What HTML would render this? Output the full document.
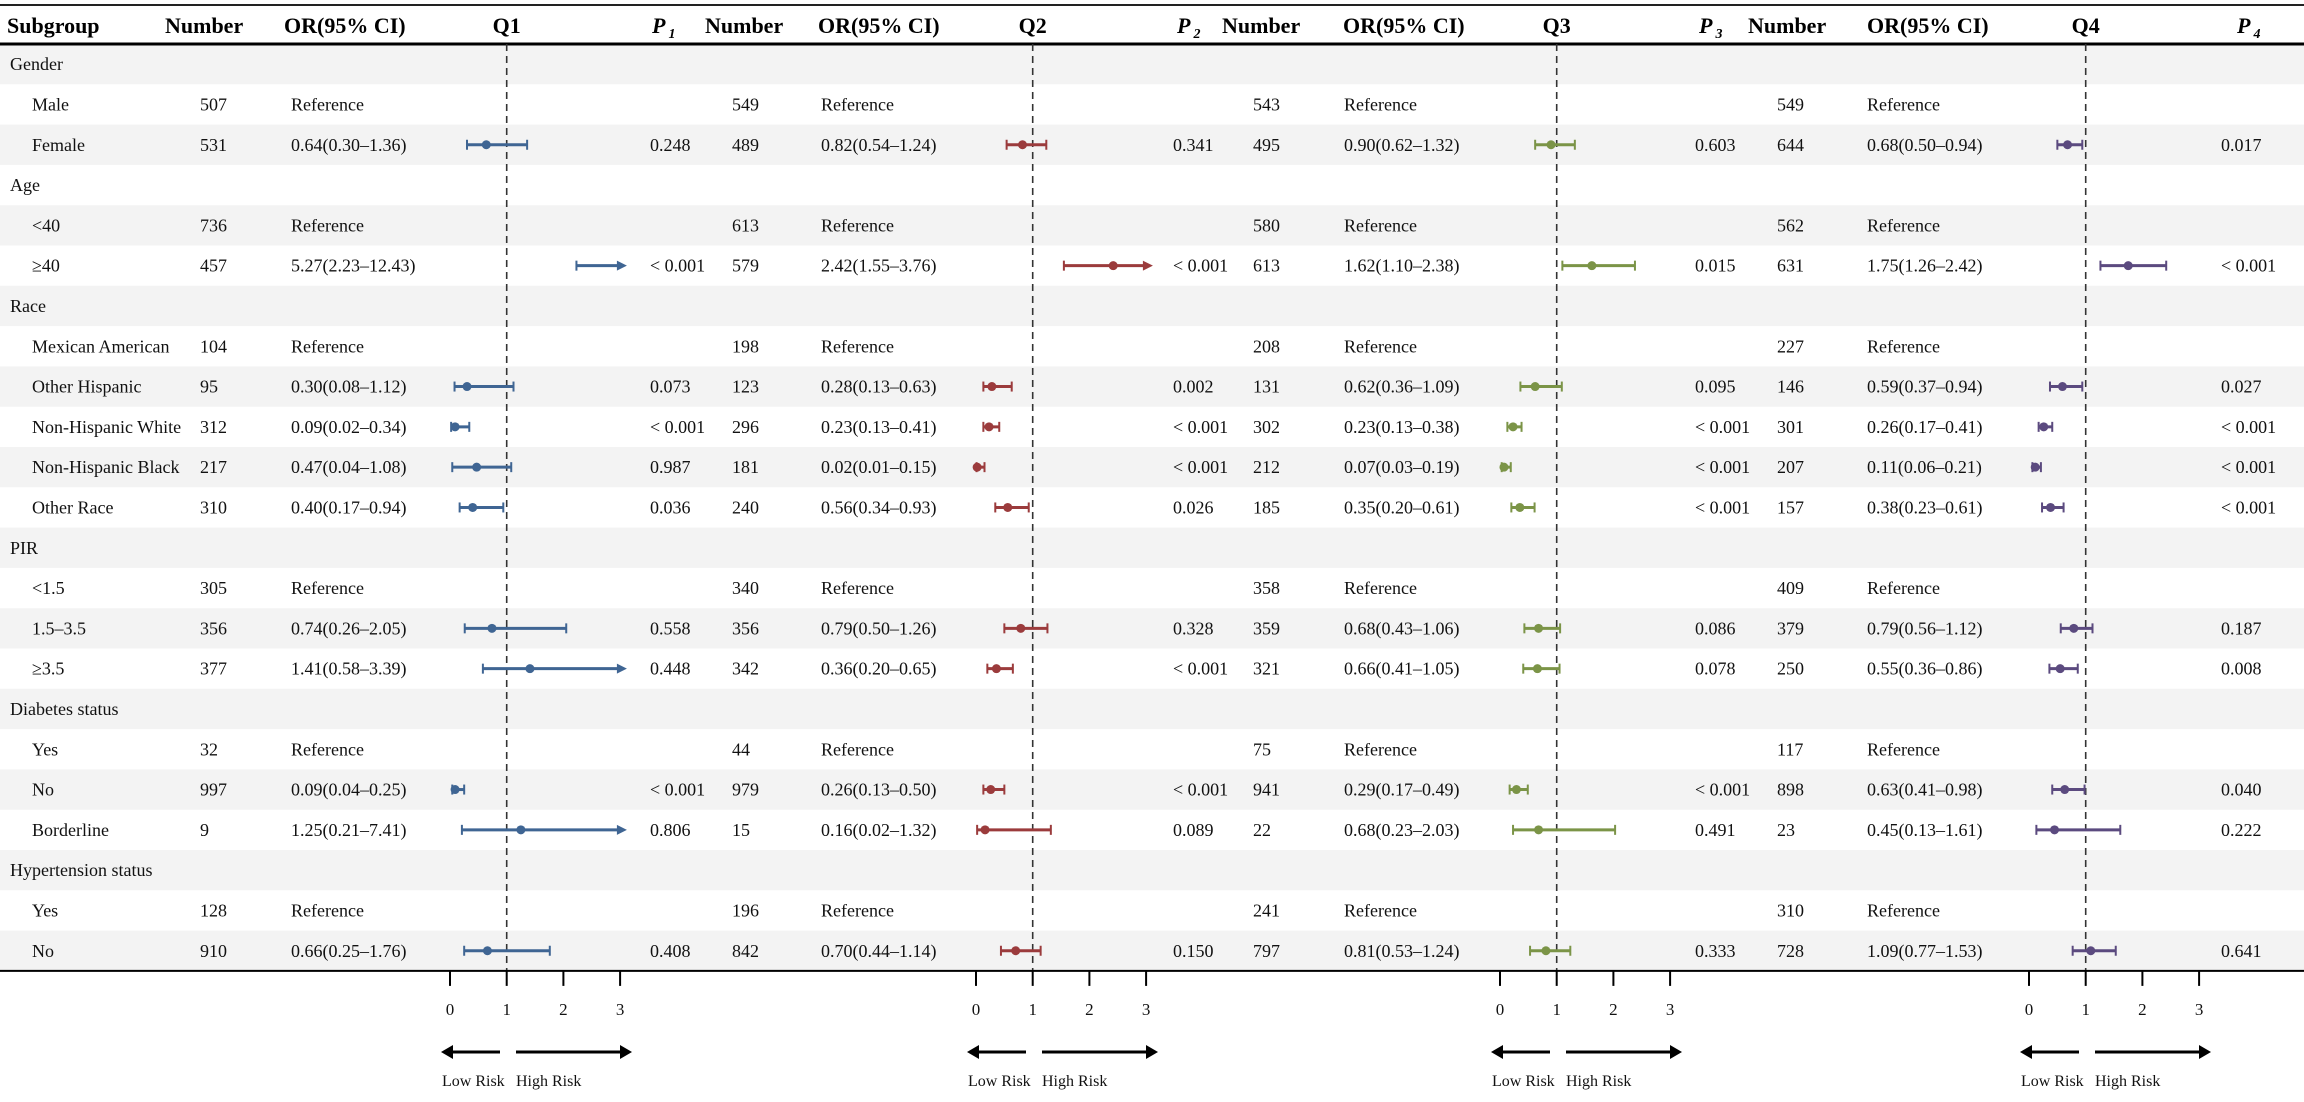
<!DOCTYPE html>
<html><head><meta charset="utf-8"><style>
html,body{margin:0;padding:0;background:#fff;}
svg{display:block;font-family:"Liberation Serif",serif;}
</style></head><body>
<svg id="chart" width="2304" height="1102" viewBox="0 0 2304 1102" xmlns="http://www.w3.org/2000/svg"></svg>
<script>
const labels=["Gender","Male","Female","Age","<40","≥40","Race","Mexican American","Other Hispanic","Non-Hispanic White","Non-Hispanic Black","Other Race","PIR","<1.5","1.5–3.5","≥3.5","Diabetes status","Yes","No","Borderline","Hypertension status","Yes","No"];
const isHeader=[1,0,0,1,0,0,1,0,0,0,0,0,1,0,0,0,1,0,0,0,1,0,0];
const q1N=[null,507,531,null,736,457,null,104,95,312,217,310,null,305,356,377,null,32,997,9,null,128,910];
const q1Est=[null,null,0.64,null,null,5.27,null,null,0.30,0.09,0.47,0.40,null,null,0.74,1.41,null,null,0.09,1.25,null,null,0.66];
const q1Lo=[null,null,0.30,null,null,2.23,null,null,0.08,0.02,0.04,0.17,null,null,0.26,0.58,null,null,0.04,0.21,null,null,0.25];
const q1Hi=[null,null,1.36,null,null,12.43,null,null,1.12,0.34,1.08,0.94,null,null,2.05,3.39,null,null,0.25,7.41,null,null,1.76];
const q1P=[null,null,"0.248",null,null,"< 0.001",null,null,"0.073","< 0.001","0.987","0.036",null,null,"0.558","0.448",null,null,"< 0.001","0.806",null,null,"0.408"];
const q2N=[null,549,489,null,613,579,null,198,123,296,181,240,null,340,356,342,null,44,979,15,null,196,842];
const q2Est=[null,null,0.82,null,null,2.42,null,null,0.28,0.23,0.02,0.56,null,null,0.79,0.36,null,null,0.26,0.16,null,null,0.70];
const q2Lo=[null,null,0.54,null,null,1.55,null,null,0.13,0.13,0.01,0.34,null,null,0.50,0.20,null,null,0.13,0.02,null,null,0.44];
const q2Hi=[null,null,1.24,null,null,3.76,null,null,0.63,0.41,0.15,0.93,null,null,1.26,0.65,null,null,0.50,1.32,null,null,1.14];
const q2P=[null,null,"0.341",null,null,"< 0.001",null,null,"0.002","< 0.001","< 0.001","0.026",null,null,"0.328","< 0.001",null,null,"< 0.001","0.089",null,null,"0.150"];
const q3N=[null,543,495,null,580,613,null,208,131,302,212,185,null,358,359,321,null,75,941,22,null,241,797];
const q3Est=[null,null,0.90,null,null,1.62,null,null,0.62,0.23,0.07,0.35,null,null,0.68,0.66,null,null,0.29,0.68,null,null,0.81];
const q3Lo=[null,null,0.62,null,null,1.10,null,null,0.36,0.13,0.03,0.20,null,null,0.43,0.41,null,null,0.17,0.23,null,null,0.53];
const q3Hi=[null,null,1.32,null,null,2.38,null,null,1.09,0.38,0.19,0.61,null,null,1.06,1.05,null,null,0.49,2.03,null,null,1.24];
const q3P=[null,null,"0.603",null,null,"0.015",null,null,"0.095","< 0.001","< 0.001","< 0.001",null,null,"0.086","0.078",null,null,"< 0.001","0.491",null,null,"0.333"];
const q4N=[null,549,644,null,562,631,null,227,146,301,207,157,null,409,379,250,null,117,898,23,null,310,728];
const q4Est=[null,null,0.68,null,null,1.75,null,null,0.59,0.26,0.11,0.38,null,null,0.79,0.55,null,null,0.63,0.45,null,null,1.09];
const q4Lo=[null,null,0.50,null,null,1.26,null,null,0.37,0.17,0.06,0.23,null,null,0.56,0.36,null,null,0.41,0.13,null,null,0.77];
const q4Hi=[null,null,0.94,null,null,2.42,null,null,0.94,0.41,0.21,0.61,null,null,1.12,0.86,null,null,0.98,1.61,null,null,1.53];
const q4P=[null,null,"0.017",null,null,"< 0.001",null,null,"0.027","< 0.001","< 0.001","< 0.001",null,null,"0.187","0.008",null,null,"0.040","0.222",null,null,"0.641"];
const axisTicks=[0,1,2,3];
const quartileNames=["Q1","Q2","Q3","Q4"];

const svg=document.getElementById('chart');
const NS="http://www.w3.org/2000/svg";
function mk(tag,attrs,parent){const e=document.createElementNS(NS,tag);for(const k in attrs)e.setAttribute(k,attrs[k]);(parent||svg).appendChild(e);return e;}
function txt(x,y,s,attrs){const e=mk('text',Object.assign({x:x,y:y},attrs||{}));e.textContent=s;return e;}

const TOP=44, RH=40.3, AXY=TOP+RH*labels.length, UNIT=56.7, CLIP=3.12, FS=18;
const rowY=i=>TOP+RH*(i+0.5);
const Q=[
 {N:q1N,E:q1Est,L:q1Lo,H:q1Hi,P:q1P,color:"#3f6593",numX:200,orX:291,x0:450,pL:650,hN:165,hOR:284,hP:652},
 {N:q2N,E:q2Est,L:q2Lo,H:q2Hi,P:q2P,color:"#9b3b3c",numX:732,orX:821,x0:976,pL:1173,hN:705,hOR:818,hP:1177},
 {N:q3N,E:q3Est,L:q3Lo,H:q3Hi,P:q3P,color:"#7b9447",numX:1253,orX:1344,x0:1500,pL:1695,hN:1222,hOR:1343,hP:1699},
 {N:q4N,E:q4Est,L:q4Lo,H:q4Hi,P:q4P,color:"#5b4a7f",numX:1777,orX:1867,x0:2029,pL:2221,hN:1748,hOR:1867,hP:2237}
];

labels.forEach((l,i)=>{
  if(i%2===0){const r=mk('rect',{x:0,y:TOP+RH*i,width:2304,height:RH,fill:"#f3f3f3"});
  
  }
});
let tl=mk('line',{x1:0,x2:2304,y1:5,y2:5,stroke:"#222","stroke-width":2});


let hl=mk('line',{x1:0,x2:2304,y1:44,y2:44,stroke:"#000","stroke-width":3});



const hs={"font-size":22,"font-weight":"bold",fill:"#000"};
let h0=txt(7,33,"Subgroup",hs);



labels.forEach((l,i)=>{
  const t=txt(isHeader[i]?10:32,rowY(i)+6,l,{"font-size":FS,fill:"#111"});
  
  
});

Q.forEach((q,k)=>{
  const xs=v=>q.x0+v*UNIT;
  let t=txt(q.hN,33,"Number",hs);
  
  
  t=txt(q.hOR,33,"OR(95% CI)",hs);
  
  
  t=txt(xs(1),33,quartileNames[k],Object.assign({"text-anchor":"middle"},hs));
  
  
  t=mk('text',{x:q.hP,y:33,"font-size":22,"font-weight":"bold","font-style":"italic"});
  
  
  t.textContent="P";
  const sub=mk('tspan',{dx:3,dy:5,"font-size":14},t);sub.textContent=String(k+1);

  const dl=mk('line',{x1:xs(1),x2:xs(1),y1:TOP,y2:AXY,stroke:"#333","stroke-width":1.6,"stroke-dasharray":"7,5"});
  
  

  labels.forEach((l,i)=>{
    const y=rowY(i)+6;
    if(q.N[i]!=null){
      const n=txt(q.numX,y,String(q.N[i]),{"font-size":FS,fill:"#111"});
      
      
      const e=q.E[i];
      const orText=e==null?"Reference":e.toFixed(2)+"("+q.L[i].toFixed(2)+"–"+q.H[i].toFixed(2)+")";
      const o=txt(q.orX,y,orText,{"font-size":FS,fill:"#111"});
      
      
    }
    if(q.P[i]!=null){
      const p=txt(q.pL,y,q.P[i],{"font-size":FS,fill:"#111"});
      
      
    }
    if(q.E[i]!=null){
      const cy=rowY(i);
      const lo=q.L[i], hi=q.H[i], clipped=hi>CLIP;
      const g=mk('g',{});
      
      
      const xr=clipped?xs(CLIP):xs(hi);
      mk('line',{x1:xs(lo),x2:xr-(clipped?6:0),y1:cy,y2:cy,stroke:q.color,"stroke-width":3},g);
      mk('line',{x1:xs(lo),x2:xs(lo),y1:cy-5,y2:cy+5,stroke:q.color,"stroke-width":2},g);
      if(clipped){
        mk('polygon',{points:(xr)+","+cy+" "+(xr-10)+","+(cy-5)+" "+(xr-10)+","+(cy+5),fill:q.color},g);
      } else {
        mk('line',{x1:xs(hi),x2:xs(hi),y1:cy-5,y2:cy+5,stroke:q.color,"stroke-width":2},g);
      }
      if(q.E[i]<=CLIP) mk('circle',{cx:xs(q.E[i]),cy:cy,r:4.5,fill:q.color},g);
    }
  });

  axisTicks.forEach(v=>{
    const tk=mk('line',{x1:xs(v),x2:xs(v),y1:AXY,y2:AXY+15,stroke:"#000","stroke-width":2});
    
    
    const tlb=txt(xs(v),1015,String(v),{"font-size":17,"text-anchor":"middle",fill:"#111"});
    
    
  });
  const ay=1052;
  const ga=mk('g',{});
  
  
  mk('line',{x1:q.x0-2,x2:q.x0+50,y1:ay,y2:ay,stroke:"#000","stroke-width":3},ga);
  mk('polygon',{points:(q.x0-9)+","+ay+" "+(q.x0+3)+","+(ay-7)+" "+(q.x0+3)+","+(ay+7),fill:"#000"},ga);
  mk('line',{x1:q.x0+66,x2:q.x0+175,y1:ay,y2:ay,stroke:"#000","stroke-width":3},ga);
  mk('polygon',{points:(q.x0+182)+","+ay+" "+(q.x0+170)+","+(ay-7)+" "+(q.x0+170)+","+(ay+7),fill:"#000"},ga);
  let lr=txt(q.x0-8,1086,"Low Risk",{"font-size":16,fill:"#111"});
  
  
  let hr=txt(q.x0+66,1086,"High Risk",{"font-size":16,fill:"#111"});
  
  
});

let ax=mk('line',{x1:0,x2:2304,y1:AXY,y2:AXY,stroke:"#000","stroke-width":2});


</script>
</body></html>
